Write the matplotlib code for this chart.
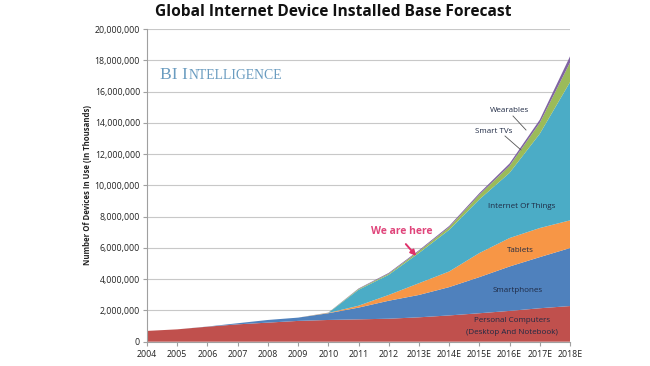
import matplotlib
matplotlib.use("Agg")
import matplotlib.pyplot as plt
import numpy as np
from matplotlib.ticker import FuncFormatter, MultipleLocator

years = ["2004", "2005", "2006", "2007", "2008", "2009", "2010", "2011", "2012",
         "2013E", "2014E", "2015E", "2016E", "2017E", "2018E"]

# values in thousands
pcs = [690000, 790000, 960000, 1110000, 1220000, 1330000, 1390000, 1430000, 1470000,
       1560000, 1680000, 1820000, 1970000, 2140000, 2280000]
smartphones = [0, 0, 10000, 70000, 170000, 210000, 430000, 750000, 1150000,
               1430000, 1810000, 2310000, 2840000, 3270000, 3710000]
tablets = [0, 0, 0, 0, 0, 0, 20000, 120000, 370000,
           750000, 1000000, 1540000, 1820000, 1860000, 1770000]
iot = [0, 0, 0, 0, 0, 0, 0, 1020000, 1290000,
       1930000, 2660000, 3430000, 4170000, 6030000, 8840000]
smart_tvs = [0, 0, 0, 0, 0, 0, 10000, 50000, 70000,
             120000, 170000, 300000, 450000, 700000, 1250000]
wearables = [0, 0, 0, 0, 0, 0, 10000, 30000, 50000,
             60000, 80000, 100000, 150000, 200000, 400000]

series = [pcs, smartphones, tablets, iot, smart_tvs, wearables]
colors = ["#C0504D", "#4F81BD", "#F79646", "#4BACC6", "#9BBB59", "#8064A2"]

W, H = 650, 366
fig = plt.figure(figsize=(W / 100, H / 100), dpi=100)
fig.patch.set_facecolor("white")
ax = fig.add_axes([147 / W, 1 - 341.7 / H, (570 - 147) / W, (341.7 - 29) / H])

x = np.arange(len(years))
ax.stackplot(x, *series, colors=colors, linewidth=0)

ax.set_xlim(0, len(years) - 1)
ax.set_ylim(0, 20000000)
ax.yaxis.set_major_locator(MultipleLocator(2000000))
ax.yaxis.set_major_formatter(FuncFormatter(lambda v, p: f"{int(v):,}"))
ax.set_xticks(x)
ax.set_xticklabels(years)
ax.grid(axis="y", color="#C8C8C8", linewidth=0.8)
ax.set_axisbelow(True)
for s in ["top", "right"]:
    ax.spines[s].set_visible(False)
for s in ["left", "bottom"]:
    ax.spines[s].set_color("#A0A0A0")
    ax.spines[s].set_linewidth(0.8)
ax.tick_params(axis="y", labelsize=6.3, colors="#A0A0A0", labelcolor="#222222",
               length=3, width=0.8, pad=2)
ax.tick_params(axis="x", labelsize=6.3, colors="#A0A0A0", labelcolor="#222222",
               length=3, width=0.8, pad=3)
for lab in ax.get_xticklabels() + ax.get_yticklabels():
    lab.set_family(["Open Sans", "DejaVu Sans"])

ax.set_ylabel("Number Of Devices In Use (In Thousands)", fontsize=5.6,
              fontweight="bold", family=["Open Sans", "DejaVu Sans"],
              color="#222222", labelpad=1)
ax.yaxis.set_label_coords(-0.131, 0.5)

fig.text(333 / W, 1 - 12 / H, "Global Internet Device Installed Base Forecast",
         ha="center", va="center", fontsize=11.2, fontweight="bold",
         family=["Open Sans", "DejaVu Sans"], color="#111111")

# BI Intelligence watermark (small caps style)
wm_color = "#6A9CC0"
renderer = fig.canvas.get_renderer()
t1 = fig.text(160 / W, 1 - 75 / H, "BI I", ha="left", va="center", fontsize=12.6,
              family=["Liberation Serif", "DejaVu Serif"], color=wm_color)
bb = t1.get_window_extent(renderer=renderer)
fig.text(bb.x1 / W + 0.5 / W, 1 - 75.9 / H, "NTELLIGENCE", ha="left", va="center",
         fontsize=9.9, family=["Liberation Serif", "DejaVu Serif"], color=wm_color)


def fp(px, py):
    return (px / W, 1 - py / H)


lab_kw = dict(ha="center", va="center", fontsize=5.8,
              family=["Open Sans", "DejaVu Sans"], color="#1F2A44")
fig.text(*fp(510, 111), "Wearables", **lab_kw)
fig.text(*fp(494, 131), "Smart TVs", **lab_kw)
fig.text(*fp(522, 207), "Internet Of Things", **lab_kw)
fig.text(*fp(520, 251), "Tablets", **lab_kw)
fig.text(*fp(518, 290), "Smartphones", **lab_kw)
fig.text(*fp(512, 321), "Personal Computers", **lab_kw)
fig.text(*fp(512, 332), "(Desktop And Notebook)", **lab_kw)

# leader lines
fig.add_artist(plt.Line2D([513 / W, 526 / W], [1 - 116 / H, 1 - 130 / H],
                          color="#555555", linewidth=0.6))
fig.add_artist(plt.Line2D([505 / W, 521 / W], [1 - 136 / H, 1 - 150 / H],
                          color="#555555", linewidth=0.6))

# We are here
fig.text(*fp(402, 232), "We are here", ha="center", va="center", fontsize=7.5,
         fontweight="bold", family=["Open Sans", "DejaVu Sans"], color="#E0457B")
ax.annotate("", xy=fp(418, 258), xycoords="figure fraction",
            xytext=fp(404, 242), textcoords="figure fraction",
            arrowprops=dict(arrowstyle="-|>", color="#E0306A", lw=1.4,
                            mutation_scale=8))

fig.savefig("out.png", dpi=100, facecolor="white")
